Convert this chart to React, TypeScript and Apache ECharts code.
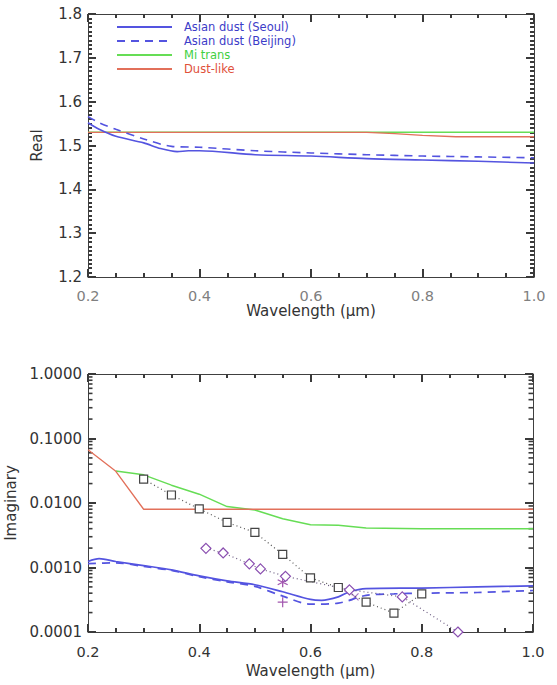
import React, { useEffect, useRef } from "react";
import * as echarts from "echarts";

// ---------- Top panel (Real part) ----------
const seoulRealX = [0.2, 0.22, 0.25, 0.3, 0.33, 0.36, 0.38, 0.4, 0.5, 0.6, 0.7, 0.8, 0.9, 1.0];
const seoulRealY = [1.552, 1.537, 1.521, 1.506, 1.493, 1.486, 1.488, 1.488, 1.479, 1.476, 1.470, 1.467, 1.464, 1.460];
const beijingRealX = [0.2, 0.22, 0.25, 0.3, 0.35, 0.4, 0.5, 0.6, 0.7, 0.8, 0.9, 1.0];
const beijingRealY = [1.566, 1.552, 1.537, 1.515, 1.498, 1.496, 1.488, 1.483, 1.479, 1.476, 1.474, 1.472];
const miRealX = [0.2, 0.4, 0.6, 0.8, 1.0];
const miRealY = [1.53, 1.53, 1.53, 1.53, 1.53];
const dustRealX = [0.2, 0.4, 0.6, 0.7, 0.75, 0.8, 0.86, 1.0];
const dustRealY = [1.53, 1.53, 1.53, 1.53, 1.527, 1.523, 1.52, 1.52];

// ---------- Bottom panel (Imaginary part) ----------
const seoulImX = [0.2, 0.22, 0.25, 0.3, 0.35, 0.4, 0.45, 0.5, 0.55, 0.6, 0.62, 0.65, 0.67, 0.7, 0.8, 0.9, 1.0];
const seoulImY = [0.00124, 0.00137, 0.00124, 0.00107, 0.00092, 0.00074, 0.00062, 0.00054, 0.00042, 0.00032, 0.00031, 0.00035, 0.00042, 0.00047, 0.00048, 0.0005, 0.00052];
const beijingImX = [0.2, 0.25, 0.3, 0.35, 0.4, 0.45, 0.5, 0.55, 0.6, 0.65, 0.7, 0.75, 0.8, 0.9, 1.0];
const beijingImY = [0.00115, 0.00118, 0.00104, 0.0009, 0.00072, 0.0006, 0.00051, 0.00036, 0.00027, 0.00028, 0.00037, 0.00039, 0.0004, 0.00041, 0.00044];
const miImX = [0.25, 0.3, 0.35, 0.4, 0.45, 0.5, 0.55, 0.6, 0.65, 0.7, 0.8, 0.9, 1.0];
const miImY = [0.0314, 0.0273, 0.0189, 0.0137, 0.0088, 0.0078, 0.0057, 0.0046, 0.0045, 0.0041, 0.004, 0.004, 0.004];
const dustImX = [0.2, 0.25, 0.3, 0.6, 1.0];
const dustImY = [0.067, 0.031, 0.008, 0.008, 0.008];
const squareX = [0.3, 0.35, 0.4, 0.45, 0.5, 0.55, 0.6, 0.65, 0.7, 0.75, 0.8];
const squareY = [0.0234, 0.0133, 0.0081, 0.005, 0.0035, 0.0016, 0.00069, 0.00049, 0.00029, 0.000196, 0.00039];
const diamondX = [0.412, 0.443, 0.49, 0.51, 0.555, 0.67, 0.765, 0.865];
const diamondY = [0.00198, 0.00168, 0.00114, 0.00095, 0.00073, 0.00045, 0.00035, 0.0001];
const asteriskPt = [0.55, 0.00059];
const plusPt = [0.55, 0.00029];
const crossPt = [0.68, 0.00035];

// Tick labels / ranges
const realMin = 1.2;
const realMax = 1.8;
const realStep = 0.1;
const waveMin = 0.2;
const waveMax = 1.0;
const waveStep = 0.2;
const imMin = 0.0001;
const imMax = 1;
const logMinorFactors = [2, 3, 4, 5, 6, 7, 8, 9];
const logDecades = [0.0001, 0.001, 0.01, 0.1];

const names = ["Asian dust (Seoul)", "Asian dust (Beijing)", "Mi trans", "Dust-like"];
const BLUE = "#5454e0";
const GREEN = "#66dd55";
const RED = "#e2705a";
const FRAME = "#404040";
const TICK = "#3a3a3a";
const TW = 2;
const FONT = "DejaVu Sans";

const zip = (xs: number[], ys: number[]) => xs.map((x, i) => [x, ys[i]]);

export default function App() {
  const ref = useRef<HTMLDivElement>(null);
  useEffect(() => {
    if (!ref.current) return;
    const chart = echarts.init(ref.current, undefined, { renderer: "svg" });

    const minorTickVals: number[][] = [];
    logDecades.forEach((d) => logMinorFactors.forEach((f) => minorTickVals.push([0.6, d * f])));

    const tick = () => ({ show: true, inside: true, length: 8, lineStyle: { color: TICK, width: TW } });
    const minor = (n: number) => ({ show: true, splitNumber: n, length: 4, lineStyle: { color: TICK, width: TW } });

    const xBase = (gridIndex: number, top: boolean, labelColor: string, nameGap: number, labelMargin: number) => ({
      type: "value",
      gridIndex,
      position: top ? "top" : "bottom",
      min: waveMin,
      max: waveMax,
      interval: waveStep,
      name: top ? "" : "Wavelength (\u03bcm)",
      nameLocation: "middle",
      nameGap,
      nameTextStyle: { fontFamily: FONT, fontSize: 15, color: "#333" },
      axisLine: { show: true, onZero: false, lineStyle: { color: FRAME, width: 1 } },
      axisTick: tick(),
      minorTick: minor(4),
      splitLine: { show: false },
      axisLabel: {
        show: !top,
        margin: labelMargin,
        fontFamily: FONT,
        fontSize: 14.5,
        color: labelColor,
        formatter: (v: number) => v.toFixed(1),
      },
    });

    const option: any = {
      animation: false,
      grid: [
        { left: 88, top: 14, width: 446, height: 263, containLabel: false, outerBoundsMode: "none" },
        { left: 88, top: 374, width: 445, height: 258, containLabel: false, outerBoundsMode: "none" },
      ],
      legend: {
        orient: "vertical",
        left: 111,
        top: 16,
        itemWidth: 55,
        itemHeight: 8,
        itemGap: 2,
        itemStyle: { opacity: 0 },
        textStyle: { fontFamily: FONT, fontSize: 11.5, padding: [0, 0, 0, 7] },
        data: [
          { name: names[0], textStyle: { color: "#3c3cc8" } },
          { name: names[1], textStyle: { color: "#3c3cc8" } },
          { name: names[2], textStyle: { color: "#3fd03f" } },
          { name: names[3], textStyle: { color: "#e0503a" } },
        ],
      },
      xAxis: [
        xBase(0, false, "#808080", 24, 11),
        xBase(0, true, "#808080", 24, 11),
        xBase(1, false, "#333", 31, 12),
        xBase(1, true, "#333", 31, 12),
      ],
      yAxis: [
        {
          type: "value",
          gridIndex: 0,
          position: "left",
          min: realMin,
          max: realMax,
          interval: realStep,
          name: "Real",
          nameLocation: "middle",
          nameGap: 44,
          nameTextStyle: { fontFamily: FONT, fontSize: 15, color: "#333" },
          axisLine: { show: true, lineStyle: { color: FRAME } },
          axisTick: tick(),
          minorTick: minor(10),
          splitLine: { show: false },
          axisLabel: { margin: 6, fontFamily: FONT, fontSize: 15, color: "#333", formatter: (v: number) => v.toFixed(1) },
        },
        {
          type: "value",
          gridIndex: 0,
          position: "right",
          min: realMin,
          max: realMax,
          interval: realStep,
          axisLine: { show: true, lineStyle: { color: FRAME } },
          axisTick: tick(),
          minorTick: minor(10),
          splitLine: { show: false },
          axisLabel: { show: false },
        },
        {
          type: "log",
          logBase: 10,
          gridIndex: 1,
          position: "left",
          min: imMin,
          max: imMax,
          name: "Imaginary",
          nameLocation: "middle",
          nameGap: 66,
          nameTextStyle: { fontFamily: FONT, fontSize: 15, color: "#333" },
          axisLine: { show: true, lineStyle: { color: FRAME } },
          axisTick: tick(),
          splitLine: { show: false },
          axisLabel: { margin: 6, fontFamily: FONT, fontSize: 15, color: "#333", formatter: (v: number) => v.toFixed(4) },
        },
        {
          type: "log",
          logBase: 10,
          gridIndex: 1,
          position: "right",
          min: imMin,
          max: imMax,
          axisLine: { show: true, lineStyle: { color: FRAME } },
          axisTick: tick(),
          splitLine: { show: false },
          axisLabel: { show: false },
        },
      ],
      series: [
        { name: names[2], type: "line", xAxisIndex: 0, yAxisIndex: 0, data: zip(miRealX, miRealY), symbol: "none", lineStyle: { color: GREEN, width: 1.5 }, itemStyle: { color: GREEN } },
        { name: names[3], type: "line", xAxisIndex: 0, yAxisIndex: 0, data: zip(dustRealX, dustRealY), symbol: "none", lineStyle: { color: RED, width: 1.3 }, itemStyle: { color: RED } },
        { name: names[0], type: "line", xAxisIndex: 0, yAxisIndex: 0, data: zip(seoulRealX, seoulRealY), symbol: "none", smooth: 0.3, lineStyle: { color: BLUE, width: 1.6 }, itemStyle: { color: BLUE } },
        { name: names[1], type: "line", xAxisIndex: 0, yAxisIndex: 0, data: zip(beijingRealX, beijingRealY), symbol: "none", smooth: 0.3, lineStyle: { color: BLUE, width: 1.6, type: [8, 6] }, itemStyle: { color: BLUE } },
        { name: names[2], type: "line", xAxisIndex: 2, yAxisIndex: 2, data: zip(miImX, miImY), symbol: "none", lineStyle: { color: GREEN, width: 1.5 }, itemStyle: { color: GREEN } },
        { name: names[3], type: "line", xAxisIndex: 2, yAxisIndex: 2, data: zip(dustImX, dustImY), symbol: "none", lineStyle: { color: RED, width: 1.3 }, itemStyle: { color: RED } },
        { name: names[0], type: "line", xAxisIndex: 2, yAxisIndex: 2, data: zip(seoulImX, seoulImY), symbol: "none", smooth: 0.3, lineStyle: { color: BLUE, width: 1.7 }, itemStyle: { color: BLUE } },
        { name: names[1], type: "line", xAxisIndex: 2, yAxisIndex: 2, data: zip(beijingImX, beijingImY), symbol: "none", smooth: 0.3, lineStyle: { color: BLUE, width: 1.7, type: [8, 6] }, itemStyle: { color: BLUE } },
        {
          name: "squares", type: "line", xAxisIndex: 2, yAxisIndex: 2, data: zip(squareX, squareY),
          symbol: "rect", symbolSize: 8, showAllSymbol: true,
          lineStyle: { color: "#555", width: 1.2, type: [1, 3] },
          itemStyle: { color: "#fff", borderColor: "#444", borderWidth: 1.2 },
        },
        {
          name: "diamonds", type: "line", xAxisIndex: 2, yAxisIndex: 2, data: zip(diamondX, diamondY),
          symbol: "diamond", symbolSize: 10, showAllSymbol: true,
          lineStyle: { color: "#6a5a80", width: 1.2, type: [1, 3] },
          itemStyle: { color: "#fff", borderColor: "#8a4fb0", borderWidth: 1.2 },
        },
        {
          name: "asterisk", type: "scatter", xAxisIndex: 2, yAxisIndex: 2, data: [asteriskPt],
          symbol: "path://M0,-5L0,5M-4.3,-2.5L4.3,2.5M-4.3,2.5L4.3,-2.5", symbolSize: 10,
          itemStyle: { color: "none", borderColor: "#8a2a9a", borderWidth: 1.3 },
        },
        {
          name: "plus", type: "scatter", xAxisIndex: 2, yAxisIndex: 2, data: [plusPt],
          symbol: "path://M0,-5L0,5M-5,0L5,0", symbolSize: 10,
          itemStyle: { color: "none", borderColor: "#8a2a9a", borderWidth: 1.2 },
        },
        {
          name: "cross", type: "scatter", xAxisIndex: 2, yAxisIndex: 2, data: [crossPt],
          symbol: "path://M-4,-4L4,4M-4,4L4,-4", symbolSize: 7,
          itemStyle: { color: "none", borderColor: "#8a4fb0", borderWidth: 1.1 },
        },
        {
          name: "logMinorTicks", type: "custom", xAxisIndex: 2, yAxisIndex: 2, data: minorTickVals,
          encode: { x: 0, y: 1 },
          renderItem: (params: any, api: any) => {
            const v = api.value(1);
            const pL = api.coord([waveMin, v]);
            const pR = api.coord([waveMax, v]);
            const style = { fill: TICK };
            return {
              type: "group",
              children: [
                { type: "rect", shape: { x: pL[0], y: pL[1] - 0.8, width: 4.5, height: 1.6 }, style },
                { type: "rect", shape: { x: pR[0] - 4.5, y: pR[1] - 0.8, width: 4.5, height: 1.6 }, style },
              ],
            };
          },
        },
      ],
    };
    chart.setOption(option);
    return () => chart.dispose();
  }, []);
  return <div ref={ref} style={{ position: "absolute", left: 0, top: 0, width: 557, height: 685 }} />;
}
